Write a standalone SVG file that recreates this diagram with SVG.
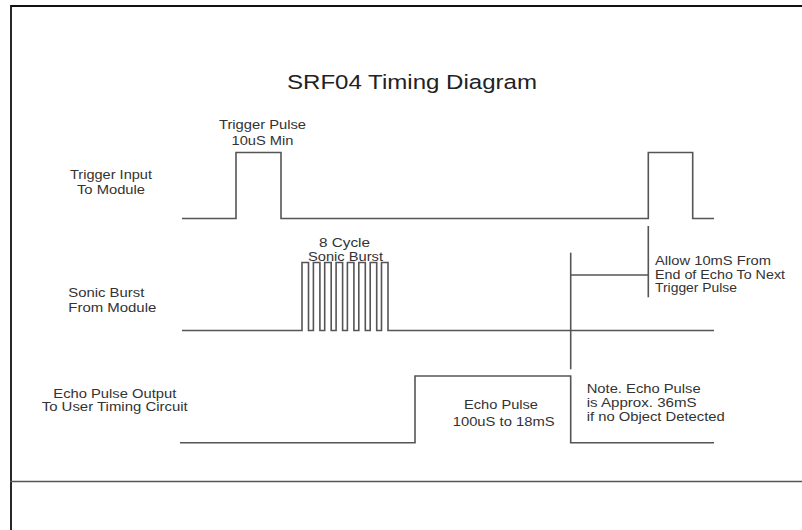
<svg xmlns="http://www.w3.org/2000/svg" width="802" height="530" viewBox="0 0 802 530">
  <style>
    .t { font-family: "Liberation Sans", Arial, sans-serif; font-size: 13px; fill: #333; }
    .s { font-size: 12px; }
    .w { fill: none; stroke: #555; stroke-width: 1.6; stroke-linejoin: miter; }
    .frame { fill: none; stroke: #111; stroke-width: 1.8; }
  </style>
  <rect width="802" height="530" fill="#fff"/>
  <g id="frame">
    <path class="frame" d="M11 530 V6 H802"/>
    <path d="M10 481.5 H802" stroke="#555" stroke-width="1.6" fill="none"/>
  </g>
  <g id="title">
    <text x="287" y="88.5" style="font-family:'Liberation Sans',Arial,sans-serif;font-size:20.5px;fill:#222" textLength="250" lengthAdjust="spacingAndGlyphs">SRF04 Timing Diagram</text>
  </g>
  <g id="trigger">
    <text class="t" x="70" y="179" textLength="82" lengthAdjust="spacingAndGlyphs">Trigger Input</text>
    <text class="t" x="77" y="193.5" textLength="68" lengthAdjust="spacingAndGlyphs">To Module</text>
    <text class="t" x="219" y="129" textLength="87" lengthAdjust="spacingAndGlyphs">Trigger Pulse</text>
    <text class="t" x="231.5" y="144.5" textLength="62" lengthAdjust="spacingAndGlyphs">10uS Min</text>
    <path class="w" d="M182 218.5 H236 V152.5 H281 V218.5 H648.3 V152.5 H692.7 V218.5 H714"/>
  </g>
  <g id="sonic">
    <text class="t" x="68.3" y="296.5" textLength="76" lengthAdjust="spacingAndGlyphs">Sonic Burst</text>
    <text class="t" x="68.3" y="311.5" textLength="88" lengthAdjust="spacingAndGlyphs">From Module</text>
    <text class="t" x="319" y="246.5" textLength="51" lengthAdjust="spacingAndGlyphs">8 Cycle</text>
    <text class="t" x="308" y="260.5" textLength="75" lengthAdjust="spacingAndGlyphs">Sonic Burst</text>
    <path class="w" d="M182 330.5 H302 V262.5 H308.5 V330.5 H313.4 V262.5 H319.9 V330.5 H324.7 V262.5 H331.2 V330.5 H336.1 V262.5 H342.6 V330.5 H347.4 V262.5 H353.9 V330.5 H358.8 V262.5 H365.3 V330.5 H370.2 V262.5 H376.7 V330.5 H381.5 V262.5 H388 V330.5 H714"/>
  </g>
  <g id="echo">
    <text class="t s" x="53.3" y="397.5" textLength="123" lengthAdjust="spacingAndGlyphs">Echo Pulse Output</text>
    <text class="t s" x="41.7" y="410.5" textLength="146" lengthAdjust="spacingAndGlyphs">To User Timing Circuit</text>
    <text class="t" x="464" y="409" textLength="74" lengthAdjust="spacingAndGlyphs">Echo Pulse</text>
    <text class="t" x="452.7" y="425.5" textLength="102" lengthAdjust="spacingAndGlyphs">100uS to 18mS</text>
    <path class="w" d="M180 442.7 H415 V376 H570.7 V442.7 H714"/>
  </g>
  <g id="note">
    <text class="t s" x="586.7" y="392.5" textLength="114" lengthAdjust="spacingAndGlyphs">Note. Echo Pulse</text>
    <text class="t s" x="586.7" y="406.5" textLength="110" lengthAdjust="spacingAndGlyphs">is Approx. 36mS</text>
    <text class="t s" x="586.7" y="421" textLength="138" lengthAdjust="spacingAndGlyphs">if no Object Detected</text>
  </g>
  <g id="allow">
    <text class="t" x="655" y="265" textLength="116" lengthAdjust="spacingAndGlyphs">Allow 10mS From</text>
    <text class="t" x="655" y="278.5" textLength="130" lengthAdjust="spacingAndGlyphs">End of Echo To Next</text>
    <text class="t" x="655" y="292" textLength="82" lengthAdjust="spacingAndGlyphs">Trigger Pulse</text>
  </g>
  <g id="connectors">
    <path class="w" d="M570.7 252.7 V369.3"/>
    <path class="w" d="M648.3 226 V297.3"/>
    <path class="w" d="M570.7 275 H648.3"/>
  </g>
</svg>
